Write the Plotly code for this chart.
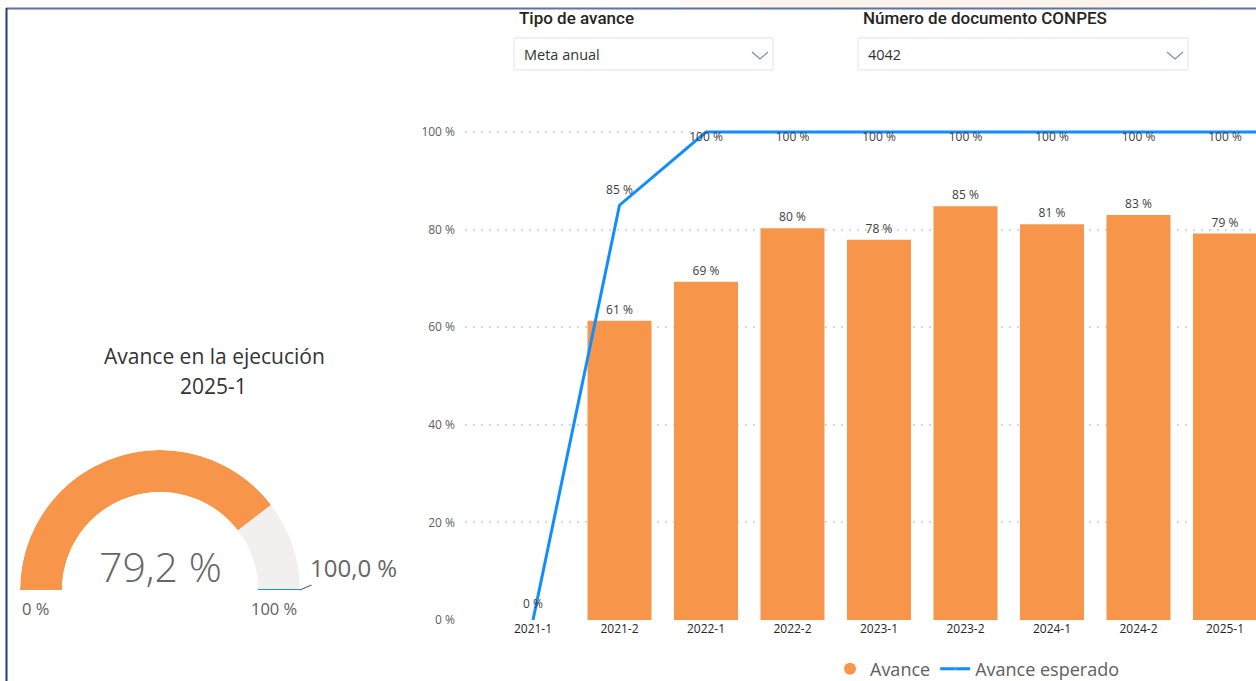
import plotly.graph_objects as go

# ---------------- data ----------------
periodos = ["2021-1", "2021-2", "2022-1", "2022-2", "2023-1", "2023-2",
            "2024-1", "2024-2", "2025-1", "2025-2"]
avance = [None, 0.613, 0.693, 0.803, 0.779, 0.848, 0.811, 0.830, 0.792, None]
avance_esperado = [0.0, 0.85, 1.0, 1.0, 1.0, 1.0, 1.0, 1.0, 1.0, 1.0]
ultimo_visible = "2025-1"   # the chart is cut at the right edge after this period
y_tick_vals = [0, 0.2, 0.4, 0.6, 0.8, 1.0]
y_tick_text = ["0 %", "20 %", "40 %", "60 %", "80 %", "100 %"]

gauge_titulo = "Avance en la ejecución"
gauge_periodo = "2025-1"
gauge_valor = 79.2
gauge_meta = 100.0
gauge_min = 0
gauge_max = 100

slicer_1_titulo = "Tipo de avance"
slicer_1_valor = "Meta anual"
slicer_2_titulo = "Número de documento CONPES"
slicer_2_valor = "4042"

# ---------------- style ----------------
W, H = 1256, 681          # reference frame used for placement
FIG_H = 689               # rendered height (the capture squeezes it to 681)
ORANGE = "#F7964A"
BLUE = "#118DFF"
LIGHT = "#F1F0EF"
GREY_TXT = "#605E5C"
DARK_TXT = "#252423"
FONT = "Open Sans, Noto Sans, sans-serif"


def px(x):
    return x / W


def py(y):
    return 1 - y / H


def pct0(v):
    return f"{round(v * 100)} %"


def pct1(v):
    return f"{v:.1f} %".replace(".", ",")


fig = go.Figure()

# ---------------- bar + line chart ----------------
fig.add_trace(go.Bar(
    x=periodos, y=avance, name="Avance", marker=dict(color=ORANGE, line=dict(width=0)),
    width=0.74, text=[pct0(v) if v is not None else "" for v in avance],
    textposition="outside", textfont=dict(size=12, color="#404040", family=FONT),
    showlegend=False, cliponaxis=True, hoverinfo="skip",
))
fig.add_trace(go.Scatter(
    x=[None], y=[None], mode="markers", name="Avance",
    marker=dict(color=ORANGE, size=12, symbol="circle"),
))
visible_idx = periodos.index(ultimo_visible)
label_pos = ["bottom center" if v >= 1 else "top center" for v in avance_esperado]
fig.add_trace(go.Scatter(
    x=periodos, y=avance_esperado, mode="lines+markers+text", name="Avance esperado",
    line=dict(color=BLUE, width=3),
    marker=dict(size=[0 if p.startswith("bottom") else 12 for p in label_pos],
                opacity=0, color=BLUE),
    text=[pct0(v) if i <= visible_idx else "" for i, v in enumerate(avance_esperado)],
    textposition=label_pos,
    textfont=dict(size=12, color="#404040", family=FONT), hoverinfo="skip",
))

cat_px = 86.5
x0_px = 533
left_px = 465
range_lo = -(x0_px - left_px) / cat_px
range_hi = range_lo + (W - left_px) / cat_px

fig.update_layout(
    xaxis=dict(domain=[px(left_px), 1.0], range=[range_lo, range_hi], type="category",
               showgrid=False, showline=False, zeroline=False, ticks="",
               tickfont=dict(size=12, color=DARK_TXT, family=FONT)),
    yaxis=dict(domain=[py(620), py(620 - 1.05 * 488)], range=[0, 1.05],
               tickvals=y_tick_vals, ticktext=y_tick_text,
               showgrid=True, gridcolor="#D6D6D6", griddash="2px,6px", gridwidth=1.5,
               zeroline=False, showline=False, ticks="", ticklabelstandoff=9,
               tickfont=dict(size=12, color=GREY_TXT, family=FONT)),
)

# ---------------- gauge (half donut on a polar subplot) ----------------
span = gauge_max - gauge_min
deg = lambda v: (v - gauge_min) / span * 180.0
fig.add_trace(go.Barpolar(
    r=[1, 1],
    theta=[deg(gauge_valor) / 2, (deg(gauge_valor) + 180) / 2],
    width=[deg(gauge_valor), 180 - deg(gauge_valor)],
    marker=dict(color=[ORANGE, LIGHT], line=dict(width=0)),
    subplot="polar", showlegend=False, hoverinfo="skip",
))
fig.add_trace(go.Scatterpolar(
    r=[0, 1], theta=[deg(gauge_meta), deg(gauge_meta)], mode="lines",
    line=dict(color=BLUE, width=2.2), subplot="polar", showlegend=False,
    cliponaxis=False, hoverinfo="skip",
))

g_l, g_r, g_t, g_b = 20, 300, 450, 590
fig.update_layout(
    polar=dict(
        domain=dict(x=[px(g_l), px(g_r)], y=[py(g_b), py(g_t)]),
        sector=[0, 180], hole=0.7, bgcolor="rgba(0,0,0,0)",
        angularaxis=dict(visible=False, direction="clockwise", rotation=180,
                         showgrid=False, showline=False, ticks=""),
        radialaxis=dict(visible=False, range=[0, 1], showgrid=False, showline=False),
    )
)

ann = []


def label(text, x, y, size, color, family=FONT, weight=None, xanchor="center"):
    f = dict(size=size, color=color, family=family)
    if weight:
        f["weight"] = weight
    ann.append(dict(text=text, x=px(x), y=py(y), xref="paper", yref="paper",
                    xanchor=xanchor, yanchor="middle", showarrow=False, font=f))


label(gauge_titulo, 214, 356, 21, "#333333")
label(gauge_periodo, 213, 386, 21, "#333333")
label(pct1(gauge_valor), 160, 566, 41, "#666666", weight=300)
label(f"{gauge_min} %", 35, 608, 16.5, GREY_TXT)
label(f"{gauge_max} %", 274, 608, 16.5, GREY_TXT)
ann.append(dict(text=pct1(gauge_meta), x=px(g_r), y=py(g_b), xref="paper", yref="paper",
                xanchor="center", yanchor="middle",
                showarrow=True, arrowhead=0, arrowwidth=1.3, arrowcolor="#666666",
                ax=53, ay=-23, font=dict(size=24, color="#666666", family=FONT)))

# ---------------- slicers ----------------
shapes = []

# faint warm glow behind the top frame line
for x_a, x_b, col in [(680, 1200, "#FEF9F5"), (760, 1120, "#FCF3EC")]:
    shapes.append(dict(type="rect", xref="paper", yref="paper", layer="below",
                       x0=px(x_a), x1=px(x_b), y0=py(8), y1=1.0,
                       line=dict(width=0), fillcolor=col))


def slicer(x_box0, x_box1, titulo, valor):
    label(titulo, x_box0 + 3, 18, 17, DARK_TXT, family="Roboto, sans-serif",
          weight=500, xanchor="left")
    shapes.append(dict(type="rect", xref="paper", yref="paper",
                       x0=px(x_box0), x1=px(x_box1), y0=py(70), y1=py(38),
                       line=dict(color="#E3E3E3", width=1), fillcolor="white"))
    label(valor, x_box0 + 8, 55, 14.5, "#333333", xanchor="left")
    cx = x_box1 - 13
    path = (f"M {px(cx - 8)},{py(52)} L {px(cx)},{py(59)} L {px(cx + 8)},{py(52)}")
    shapes.append(dict(type="path", xref="paper", yref="paper", path=path,
                       line=dict(color="#7F8FA6", width=1.3)))


slicer(514, 773, slicer_1_titulo, slicer_1_valor)
slicer(858, 1188, slicer_2_titulo, slicer_2_valor)

# page frame lines
shapes.append(dict(type="line", xref="paper", yref="paper", x0=px(6), x1=1.0,
                   y0=py(8.5), y1=py(8.5), line=dict(color="#5E74A3", width=2)))
shapes.append(dict(type="line", xref="paper", yref="paper", x0=px(6.5), x1=px(6.5),
                   y0=py(8), y1=0, line=dict(color="#1D3B7D", width=2)))

fig.update_layout(
    width=W, height=FIG_H, margin=dict(l=0, r=0, t=0, b=0),
    paper_bgcolor="white", plot_bgcolor="white",
    font=dict(family=FONT, color=GREY_TXT),
    annotations=ann, shapes=shapes,
    legend=dict(orientation="h", x=px(830), xanchor="left", y=py(669), yanchor="middle",
                font=dict(size=18, color=GREY_TXT, family=FONT),
                bgcolor="rgba(0,0,0,0)", itemwidth=30, tracegroupgap=0),
)

post = (
    "document.documentElement.style.margin='0';"
    "document.body.style.margin='0';"
    "document.querySelectorAll('.plotly-graph-div, .svg-container').forEach("
    "function(e){e.style.display='block';});"
)
fig.write_html("out.html", config={"displayModeBar": False}, post_script=post)
